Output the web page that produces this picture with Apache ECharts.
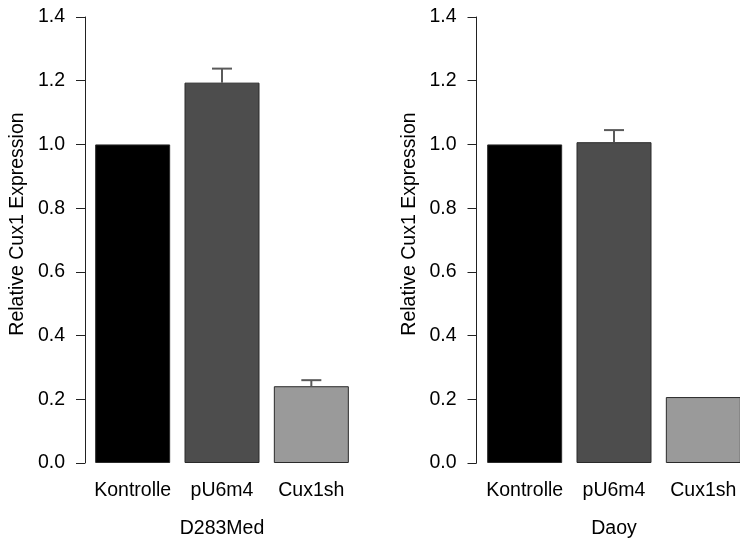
<!DOCTYPE html>
<html>
<head>
<meta charset="utf-8">
<script src="https://cdn.jsdelivr.net/npm/echarts@6/dist/echarts.min.js"></script>
<style>
  html, body { margin: 0; padding: 0; background: #ffffff; }
  #chart { width: 740px; height: 540px; }
</style>
</head>
<body>
<div id="chart"></div>
<script>
// Relative Cux1 expression in two medulloblastoma cell lines
const categories = ['Kontrolle', 'pU6m4', 'Cux1sh'];
const panelNames = ['D283Med', 'Daoy'];
const d283Means = [1.0, 1.194, 0.241];
const d283Errors = [0, 0.044, 0.019];
const daoyMeans = [1.0, 1.007, 0.207];
const daoyErrors = [0, 0.038, 0];
const yTicks = [0.0, 0.2, 0.4, 0.6, 0.8, 1.0, 1.2, 1.4];
const barColors = ['#000000', '#4d4d4d', '#9a9a9a'];
const yTitle = 'Relative Cux1 Expression';

const FONT = '"Liberation Sans", Arial, Helvetica, sans-serif';
const FS = 19.5;
const chart = echarts.init(document.getElementById('chart'), null, { renderer: 'canvas' });

function yAxisFor(gridIndex, offset) {
  return {
    type: 'value',
    gridIndex: gridIndex,
    min: yTicks[0],
    max: yTicks[yTicks.length - 1],
    interval: 0.2,
    offset: offset,
    name: yTitle,
    nameLocation: 'middle',
    nameGap: 57,
    nameRotate: 90,
    // extra leading padding lifts the rotated title slightly above the plot centre
    nameTextStyle: { color: '#000', fontSize: FS, fontFamily: FONT, padding: [0, 0, 0, 32] },
    axisLine: { show: true, lineStyle: { color: '#222', width: 1 } },
    axisTick: { show: true, length: 9, lineStyle: { color: '#222', width: 1 } },
    axisLabel: {
      color: '#000', fontSize: FS, fontFamily: FONT, margin: 20,
      formatter: v => v.toFixed(1)
    },
    splitLine: { show: false }
  };
}

function xAxisFor(gridIndex, name) {
  return {
    type: 'category',
    gridIndex: gridIndex,
    data: categories,
    name: name,
    nameLocation: 'middle',
    nameGap: 56,
    nameTextStyle: { color: '#000', fontSize: FS, fontFamily: FONT },
    axisLine: { show: false },
    axisTick: { show: false },
    axisLabel: { color: '#000', fontSize: FS, fontFamily: FONT, margin: 18, interval: 0 }
  };
}

function barSeries(idx, means) {
  return {
    type: 'bar',
    xAxisIndex: idx,
    yAxisIndex: idx,
    barWidth: 75,
    data: means.map((v, i) => ({
      value: v,
      itemStyle: { color: barColors[i], borderColor: '#2a2a2a', borderWidth: 1 }
    })),
    silent: true,
    animation: false,
    z: 2
  };
}

function errorSeries(idx, means, errors) {
  return {
    type: 'custom',
    xAxisIndex: idx,
    yAxisIndex: idx,
    data: means.map((v, i) => [i, v, v + errors[i], errors[i]]),
    renderItem: function (params, api) {
      if (api.value(3) <= 0) return null;
      const base = api.coord([api.value(0), api.value(1)]);
      const top = api.coord([api.value(0), api.value(2)]);
      const half = 10;
      const style = { stroke: '#5a5a5a', lineWidth: 2 };
      return {
        type: 'group',
        children: [
          { type: 'line', shape: { x1: base[0], y1: base[1], x2: top[0], y2: top[1] }, style: style },
          { type: 'line', shape: { x1: top[0] - half, y1: top[1], x2: top[0] + half, y2: top[1] }, style: style }
        ]
      };
    },
    silent: true,
    animation: false,
    z: 3
  };
}

chart.setOption({
  backgroundColor: '#ffffff',
  animation: false,
  grid: [
    { left: 88, top: 17, width: 268, height: 446, outerBoundsMode: 'none', containLabel: false },
    { left: 480, top: 17, width: 268, height: 446, outerBoundsMode: 'none', containLabel: false }
  ],
  xAxis: [xAxisFor(0, panelNames[0]), xAxisFor(1, panelNames[1])],
  yAxis: [yAxisFor(0, 3), yAxisFor(1, 3.5)],
  series: [
    barSeries(0, d283Means),
    errorSeries(0, d283Means, d283Errors),
    barSeries(1, daoyMeans),
    errorSeries(1, daoyMeans, daoyErrors)
  ]
});
</script>
</body>
</html>
